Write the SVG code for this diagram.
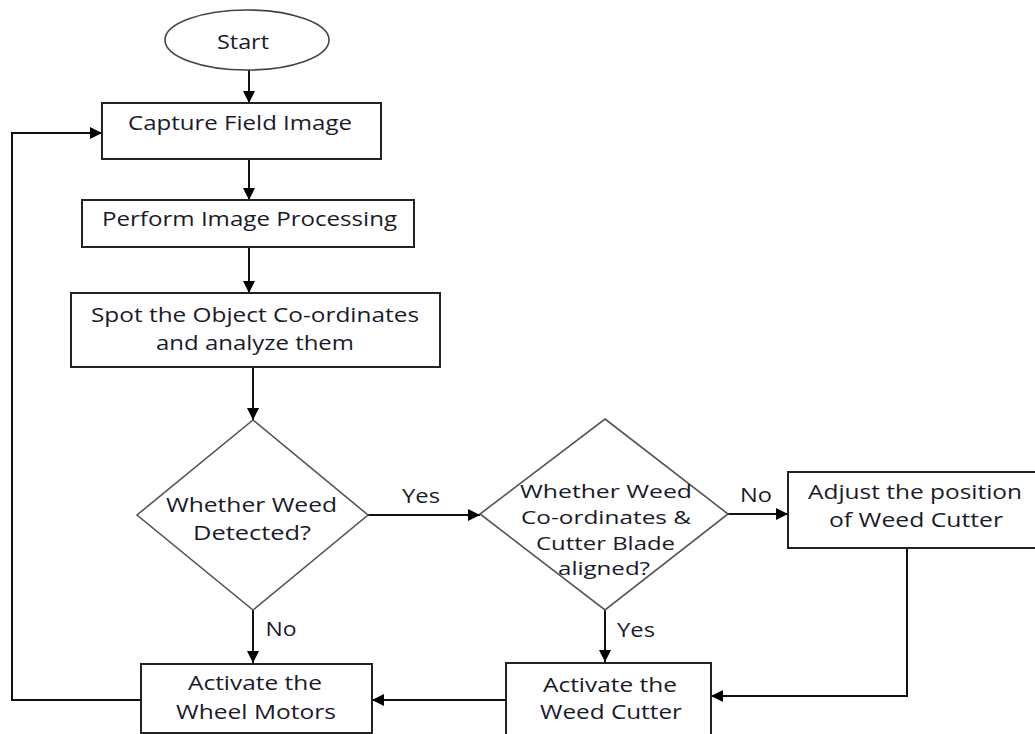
<svg xmlns="http://www.w3.org/2000/svg" width="1035" height="734" viewBox="0 0 1035 734">
<style>
.box{fill:#fff;stroke:#222;stroke-width:2}
.dia{fill:#fff;stroke:#555;stroke-width:1.6}
.t{font-family:"Open Sans","Liberation Sans",Arial,sans-serif;font-size:20px;fill:#1a1a2a;text-anchor:middle}
.s{font-size:18px}
.c{fill:none;stroke:#111;stroke-width:2}
</style>
<defs>
<marker id="ah" markerUnits="userSpaceOnUse" markerWidth="12" markerHeight="12" viewBox="0 0 12 12" refX="12" refY="6" orient="auto">
<path d="M0,0 L12,6 L0,12 Z" fill="#000"/>
</marker>
</defs>
<g id="connectors">
<path class="c" d="M249,70 V103" marker-end="url(#ah)"/>
<path class="c" d="M249,159 V200" marker-end="url(#ah)"/>
<path class="c" d="M249,247 V293" marker-end="url(#ah)"/>
<path class="c" d="M253,367 V420" marker-end="url(#ah)"/>
<path class="c" d="M368,515 H480" marker-end="url(#ah)"/>
<path class="c" d="M253,610 V663" marker-end="url(#ah)"/>
<path class="c" d="M728,514 H788" marker-end="url(#ah)"/>
<path class="c" d="M605,610 V662" marker-end="url(#ah)"/>
<path class="c" d="M907,548 V696 H711" marker-end="url(#ah)"/>
<path class="c" d="M506,700 H372" marker-end="url(#ah)"/>
<path class="c" d="M141,700 H12 V133 H102" marker-end="url(#ah)"/>
<text class="t" x="421" y="503" textLength="38" lengthAdjust="spacingAndGlyphs">Yes</text>
<text class="t" x="281" y="636" textLength="31" lengthAdjust="spacingAndGlyphs">No</text>
<text class="t" x="756" y="502" textLength="32" lengthAdjust="spacingAndGlyphs">No</text>
<text class="t" x="636" y="637" textLength="38" lengthAdjust="spacingAndGlyphs">Yes</text>
</g>
<g id="start">
<ellipse cx="247" cy="40" rx="82" ry="30" fill="#fff" stroke="#444" stroke-width="1.6"/>
<text class="t" x="243" y="49" textLength="52" lengthAdjust="spacingAndGlyphs">Start</text>
</g>
<g id="capture">
<rect class="box" x="102" y="103" width="279" height="56"/>
<text class="t" x="240" y="130" textLength="224" lengthAdjust="spacingAndGlyphs">Capture Field Image</text>
</g>
<g id="process">
<rect class="box" x="82" y="200" width="332" height="47"/>
<text class="t" x="249.5" y="226" textLength="295" lengthAdjust="spacingAndGlyphs">Perform Image Processing</text>
</g>
<g id="spot">
<rect class="box" x="71" y="293" width="369" height="74"/>
<text class="t" x="255" y="322" textLength="328" lengthAdjust="spacingAndGlyphs">Spot the Object Co-ordinates</text>
<text class="t" x="255" y="350" textLength="198" lengthAdjust="spacingAndGlyphs">and analyze them</text>
</g>
<g id="weed-detected">
<polygon class="dia" points="253,420 368,515 253,610 137,515"/>
<text class="t" x="251.5" y="512" textLength="171" lengthAdjust="spacingAndGlyphs">Whether Weed</text>
<text class="t" x="252" y="540" textLength="118" lengthAdjust="spacingAndGlyphs">Detected?</text>
</g>
<g id="aligned">
<polygon class="dia" points="605,419 728,514 605,610 480,514"/>
<text class="t s" x="606" y="498" textLength="172" lengthAdjust="spacingAndGlyphs">Whether Weed</text>
<text class="t s" x="606" y="524" textLength="170" lengthAdjust="spacingAndGlyphs">Co-ordinates &amp;</text>
<text class="t s" x="605.5" y="550" textLength="139" lengthAdjust="spacingAndGlyphs">Cutter Blade</text>
<text class="t s" x="604" y="575" textLength="92" lengthAdjust="spacingAndGlyphs">aligned?</text>
</g>
<g id="adjust">
<rect class="box" x="788" y="472" width="252" height="76"/>
<text class="t" x="915" y="499" textLength="214" lengthAdjust="spacingAndGlyphs">Adjust the position</text>
<text class="t" x="916" y="527" textLength="174" lengthAdjust="spacingAndGlyphs">of Weed Cutter</text>
</g>
<g id="wheel-motors">
<rect class="box" x="141" y="664" width="231" height="69"/>
<text class="t" x="255" y="690" textLength="134" lengthAdjust="spacingAndGlyphs">Activate the</text>
<text class="t" x="256" y="719" textLength="160" lengthAdjust="spacingAndGlyphs">Wheel Motors</text>
</g>
<g id="weed-cutter">
<rect class="box" x="506" y="663" width="205" height="80"/>
<text class="t" x="610" y="692" textLength="134" lengthAdjust="spacingAndGlyphs">Activate the</text>
<text class="t" x="611" y="719" textLength="142" lengthAdjust="spacingAndGlyphs">Weed Cutter</text>
</g>
</svg>
